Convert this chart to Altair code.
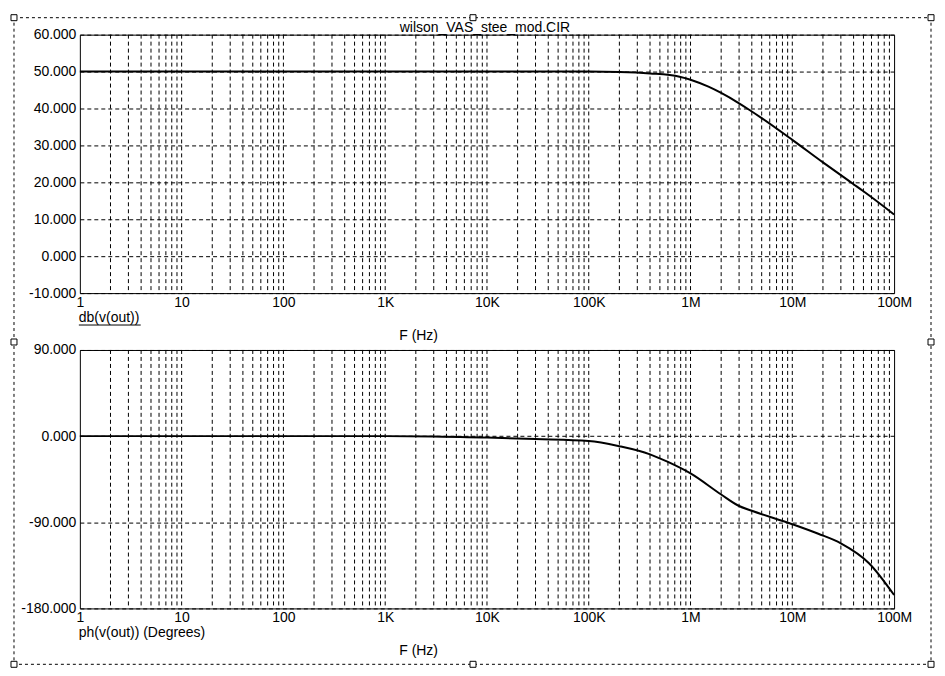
import altair as alt
import pandas as pd

TITLE = "wilson_VAS_stee_mod.CIR"
GAIN_LABEL = "db(v(out))"
PHASE_LABEL = "ph(v(out)) (Degrees)"
X_TITLE = "F (Hz)"

decade_freqs = [1, 10, 100, 1e3, 1e4, 1e5, 1e6, 1e7, 1e8]
decade_labels = ["1", "10", "100", "1K", "10K", "100K", "1M", "10M", "100M"]

gain_freqs = [1, 10, 100, 1e3, 1e4, 1e5, 2e5, 4e5, 7.8e5, 1e6, 1.5e6, 2e6, 3e6, 3.8e6, 5e6,
              1e7, 2e7, 3.9e7, 5e7, 1e8]
gain_db = [50, 50, 50, 50, 50, 50, 49.9, 49.5, 48.6, 47.8, 45.9, 44.2, 41.4, 39.6, 37.4,
           31.5, 25.4, 19.7, 17.6, 11.3]

phase_freqs = [1, 10, 100, 1e3, 3e3, 1e4, 3e4, 1e5, 2e5, 4e5, 6e5, 1e6, 2e6, 3e6, 4e6,
               1e7, 1.8e7, 3e7, 5.7e7, 1e8]
phase_deg = [0, 0, 0, 0, -0.3, -1.5, -3, -5, -10.5, -19, -27, -39, -61, -73, -78,
             -92, -102, -112, -133, -166]

gain_ticks = [-10, 0, 10, 20, 30, 40, 50, 60]
phase_ticks = [-180, -90, 0, 90]

FONT = "Liberation Sans"
W, H = 816, 259
DASH = [4, 3]

grid_freqs = [m * 10 ** d for d in range(8) for m in range(1, 10) if not (m == 1 and d == 0)]
grid_df = pd.DataFrame({"f": grid_freqs})

label_expr = "[" + ",".join("'%s'" % l for l in decade_labels) + "][round(log(datum.value)/LN10)]"

xscale = alt.Scale(type="log", domain=[1, 1e8], nice=False)
xaxis = alt.Axis(values=decade_freqs, labelExpr=label_expr, ticks=False, tickSize=0,
                 domain=False, grid=False, labelFlush=False, labelOverlap=False,
                 labelPadding=2, labelFontSize=14, labelFont=FONT, labelColor="black",
                 title=X_TITLE, titleFont=FONT, titleFontSize=14, titleFontWeight="normal",
                 titleColor="black", titleX=339, titleY=46, titleAlign="center",
                 titleBaseline="alphabetic")


def yaxis(ticks):
    return alt.Axis(values=ticks, labelExpr="replace(format(datum.value, '.3f'), '\u2212', '-')",
                    grid=True, gridDash=DASH, gridColor="black", gridOpacity=1, gridWidth=1,
                    ticks=False, tickSize=0, domain=False, labelFontSize=14, labelFont=FONT,
                    labelColor="black", labelPadding=4, labelOverlap=False, title=None)


def text_layer(txt, x, y, align="left"):
    return alt.Chart(pd.DataFrame({"t": [txt]})).mark_text(
        align=align, baseline="alphabetic", font=FONT, fontSize=14, color="black"
    ).encode(text="t:N", x=alt.value(x), y=alt.value(y))


def panel(freqs, vals, ticks, domain, label):
    df = pd.DataFrame({"f": freqs, "v": vals})
    grid = alt.Chart(grid_df).mark_rule(color="black", strokeWidth=1, strokeDash=DASH).encode(
        x=alt.X("f:Q", scale=xscale, axis=xaxis)
    )
    line = alt.Chart(df).mark_line(color="black", strokeWidth=2, interpolate="monotone").encode(
        x=alt.X("f:Q", scale=xscale, axis=xaxis),
        y=alt.Y("v:Q", scale=alt.Scale(domain=domain, nice=False, zero=False), axis=yaxis(ticks)),
    )
    lbl = text_layer(label, -1, 288)
    return [grid, line, lbl]


top_layers = panel(gain_freqs, gain_db, gain_ticks, [-10, 60], GAIN_LABEL)
underline = alt.Chart(pd.DataFrame({"t": [GAIN_LABEL]})).mark_rule(color="black", strokeWidth=1).encode(
    x=alt.value(-1), x2=alt.value(61), y=alt.value(291)
)
title = text_layer(TITLE, 406, -3, align="center")
frame = alt.Chart(pd.DataFrame({"t": ["frame"]})).mark_rect(
    fillOpacity=0, stroke="black", strokeWidth=1, strokeDash=[3, 3]
).encode(x=alt.value(-66), x2=alt.value(853), y=alt.value(-17), y2=alt.value(631))

handle_x = [-66, 394, 853, -66, 853, -66, 394, 853]
handle_y = [-17, -17, -17, 308, 308, 631, 631, 631]
handles = []
for hx, hy in zip(handle_x, handle_y):
    handles.append(
        alt.Chart(pd.DataFrame({"t": ["h"]})).mark_point(
            shape="square", size=36, filled=True, fill="white", stroke="black",
            strokeWidth=1, opacity=1
        ).encode(x=alt.value(hx), y=alt.value(hy))
    )

top = alt.layer(*top_layers, underline, title, frame, *handles).properties(width=W, height=H)

bottom_layers = panel(phase_freqs, phase_deg, phase_ticks, [-180, 90], PHASE_LABEL)
bottom = alt.layer(*bottom_layers).properties(width=W, height=H)

chart = alt.vconcat(top, bottom, spacing=57, bounds="flush").properties(
    padding={"left": 0, "top": 3, "right": 0, "bottom": 0},
    background="white",
).configure_view(stroke="black", strokeWidth=1)

chart.save("out.html", embed_options={"renderer": "svg", "actions": False})
